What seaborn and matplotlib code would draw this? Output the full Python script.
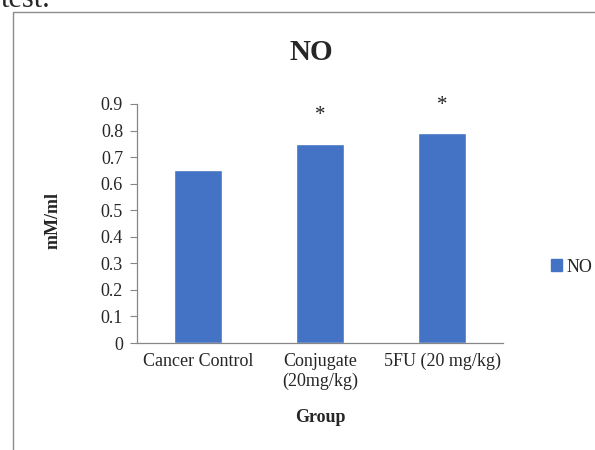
import matplotlib
matplotlib.use("Agg")
import matplotlib.pyplot as plt
import seaborn as sns
import pandas as pd
from matplotlib.patches import Rectangle

categories = ["Cancer Control", "Conjugate\n(20mg/kg)", "5FU (20 mg/kg)"]
values = [0.65, 0.75, 0.79]
stars = ["", "*", "*"]
yticks = [0, 0.1, 0.2, 0.3, 0.4, 0.5, 0.6, 0.7, 0.8, 0.9]
series_name = "NO"

sns.set_style("white")
plt.rcParams["font.family"] = ["Liberation Serif", "DejaVu Serif"]

W, H = 595, 450
fig = plt.figure(figsize=(W / 100, H / 100), dpi=100)
ax = fig.add_axes([137 / W, 1 - 343 / H, (503 - 137) / W, (343 - 104) / H])

df = pd.DataFrame({"Group": categories, "Value": values, "Series": series_name})
sns.barplot(data=df, x="Group", y="Value", hue="Series", palette=["#4472C4"],
            width=0.4, ax=ax, legend=False, saturation=1)

for i, (v, s) in enumerate(zip(values, stars)):
    if s:
        ax.text(i, v + 0.105, s, ha="center", va="center", fontsize=15, color="#222222")

ax.set_ylim(0, 0.9)
ax.set_yticks(yticks)
ax.set_yticklabels([f"{t:g}" for t in yticks], fontsize=13)
ax.set_xlim(-0.5, 2.5)
ax.tick_params(axis="x", length=0, labelsize=13, pad=7)
ax.tick_params(axis="y", length=5, width=0.8, color="#868686", direction="out", pad=5, left=True)
for s in ["top", "right"]:
    ax.spines[s].set_visible(False)
for s in ["left", "bottom"]:
    ax.spines[s].set_color("#868686")
    ax.spines[s].set_linewidth(0.9)
ax.set_ylabel("mM/ml", fontsize=13, fontweight="bold")
ax.yaxis.set_label_coords((53 - 137) / (503 - 137), (343 - 220) / (343 - 104))
ax.set_xlabel("Group", fontsize=13, fontweight="bold")
ax.xaxis.set_label_coords(0.5, -(417 - 343) / (343 - 104))
ax.xaxis.label.set_va("center")
ax.yaxis.label.set_va("center")
fig.text(311 / W, 1 - 53 / H, "NO", fontsize=21, fontweight="bold", ha="center", va="center")

# legend
ax.legend(handles=[Rectangle((0, 0), 1, 1, color="#4472C4")], labels=[series_name],
          loc="center left", bbox_to_anchor=(535 / W, 1 - 267 / H), bbox_transform=fig.transFigure,
          frameon=False, fontsize=13, handlelength=0.6, handleheight=0.6, handletextpad=0.25)

# outer chart border (partially cropped)
fig.patches.append(Rectangle((13 / W, -0.1), 1.2, 1 - 12 / H + 0.1, transform=fig.transFigure,
                             fill=False, edgecolor="#8c8c8c", linewidth=1.0))
fig.text(1 / W, 1 - 7 / H, "test.", fontsize=22, va="baseline", ha="left")

fig.savefig("out.png", dpi=100)
